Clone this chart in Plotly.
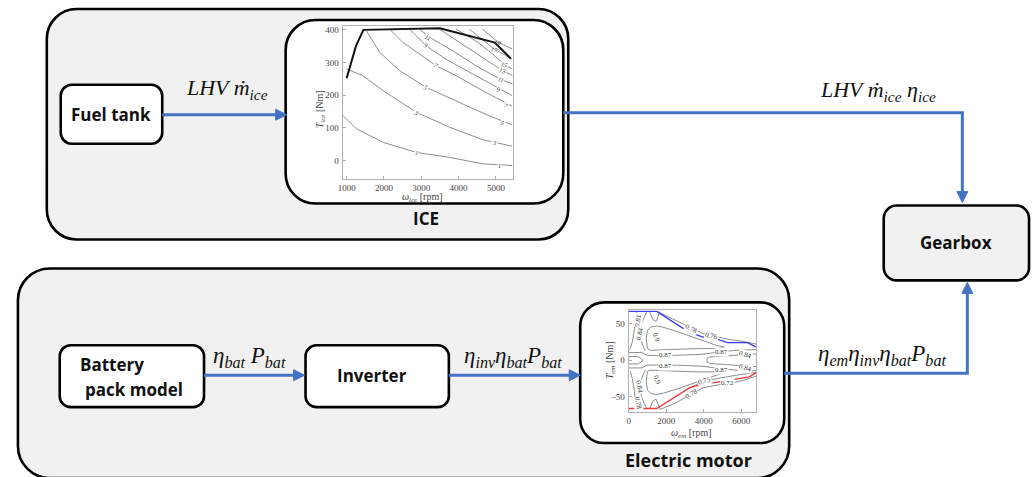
import plotly.graph_objects as go

# ---------------- ICE efficiency-map data (speed rpm, torque Nm) ----------------
ice_limit = [(1000, 252), (1250, 351), (1450, 400), (3500, 405), (4970, 361), (5400, 312)]
ice_c1 = [(893, 139), (1267, 97), (1978, 56), (2867, 25), (3756, 10), (4644, -10), (5444, -15)]
ice_c3 = [(1000, 280), (1400, 262), (1978, 214), (2867, 148), (3756, 102), (4644, 64), (5444, 44)]
ice_c5 = [(1533, 397), (1889, 331), (2422, 275), (3133, 224), (4022, 178), (4822, 137), (5444, 109)]
ice_c7 = [(2156, 402), (2511, 361), (2956, 326), (3400, 290), (3933, 260), (4644, 214), (5444, 166)]
ice_c9 = [(2689, 402), (3133, 351), (3667, 310), (4289, 270), (5000, 224), (5444, 198)]
ice_c11 = [(2956, 402), (3222, 377), (3844, 336), (4467, 290), (5089, 251), (5444, 234)]
ice_c13 = [(3489, 402), (4111, 356), (4644, 316), (5178, 275), (5444, 260)]
ice_c15 = [(3933, 402), (4467, 366), (4911, 326), (5222, 295), (5444, 280)]
ice_c17 = [(4289, 402), (4644, 371), (4956, 341), (5444, 310)]
ice_c19 = [(4644, 402), (5044, 363), (5444, 341)]
ice_contours = [ice_c1, ice_c3, ice_c5, ice_c7, ice_c9, ice_c11, ice_c13, ice_c15, ice_c17, ice_c19]

# contour labels: (text, rpm, Nm, angle)
ice_labels = [("1", 2867, 25, 12), ("1", 5089, -15, 0), ("3", 2867, 148, 25), ("3", 4956, 56, 12),
              ("5", 3133, 224, 30), ("5", 5178, 117, 15), ("7", 3400, 290, 30), ("7", 5267, 168, 20),
              ("9", 3133, 351, 30), ("9", 5089, 219, 20), ("11", 3178, 377, 30), ("11", 5133, 249, 20),
              ("13", 5178, 275, 20), ("15", 5222, 295, 20), ("17", 4956, 341, 20), ("19", 5044, 361, 20)]
ice_xticks = [1000, 2000, 3000, 4000, 5000]
ice_yticks = [0, 100, 200, 300, 400]

# ---------------- Electric motor efficiency-map data (speed rpm, torque Nm) ----------------
em_tmax = [(0, 66.8), (1498, 66.8), (3260, 37.7), (4053, 30.9), (4493, 30.5), (5286, 24.1), (6344, 24.1), (6784, 18.2)]
em_tmin = [(0, -65.9), (1498, -65.9), (3260, -37.3), (4053, -31.8), (4493, -30.9), (5286, -27.3), (6432, -22.7), (6784, -17.3)]
em_c078u = [(1586, 65.9), (2555, 53.6), (3348, 43.2), (3965, 36.4), (4405, 34.1), (5374, 28.2), (6079, 25.9), (6784, 22.3)]
em_c078l = [(1674, -67.3), (2555, -57.7), (3348, -46.4), (3965, -37.7), (4670, -34.1), (5374, -31.8), (6079, -27.7), (6784, -21.8)]
em_c075l = [(3084, -40.9), (3612, -33.2), (4053, -28.2), (4846, -24.1), (5727, -20.5), (6784, -16.8)]
em_c09u = [(1004, 15.9), (934, 29.5), (1004, 40.9), (1181, 45.5), (1498, 46.8), (1850, 45), (2555, 39.5),
           (3260, 33.2), (3965, 25.9), (4670, 20.5), (5110, 17.7), (4670, 15.9), (3612, 15.9), (2555, 14.5),
           (1674, 13.6), (1181, 13.6), (1004, 15.9)]
em_c09l = [(1004, -15), (934, -28.6), (1004, -40.9), (1181, -45.5), (1498, -46.8), (1850, -45), (2555, -39.5),
           (3260, -33.2), (3965, -25.9), (4670, -20.5), (5110, -17.7), (4670, -15.9), (3612, -15.9), (2555, -14.5),
           (1674, -13.6), (1181, -13.6), (1004, -15)]
em_c087u = [(0, 10.5), (705, 10.5), (969, 6.8), (1498, 6.4), (2555, 6.8), (3965, 8.2), (4846, 11.4), (5727, 13.6), (6784, 14.5)]
em_c087l = [(0, -10.5), (705, -10.5), (969, -6.8), (1498, -6.4), (2555, -6.8), (3965, -8.2), (4846, -11.4), (5727, -13.6), (6784, -14.5)]
em_c084r = [(6784, 8.6), (5551, 6.8), (4317, 4.5), (4176, 2.3), (4176, -2.3), (4317, -4.5), (5551, -6.8), (6784, -8.6)]
em_c084c = [(0, 5), (529, 5), (758, 0), (529, -5), (0, -5)]
em_c084u = [(969, 66.8), (828, 59), (687, 50), (617, 38.6), (652, 27.3), (793, 18.2), (881, 13.2)]
em_c084l = [(881, -13.2), (793, -18.2), (652, -27.3), (617, -38.6), (687, -50), (828, -59), (969, -66.8)]
em_c081u = [(405, 66.8), (370, 54.5), (300, 40.9), (194, 25), (88, 15.9), (0, 13.6)]
em_c078ll = [(88, -15), (194, -25), (300, -40.9), (370, -54.5), (405, -66.8)]
em_c087tu = [(1110, 66.8), (1286, 55.9), (1463, 53.2), (1604, 62.3), (1674, 66.8)]
em_c087tl = [(1110, -66.8), (1286, -55.9), (1463, -53.2), (1604, -62.3), (1674, -66.8)]
em_contours = [em_c078u, em_c078l, em_c075l, em_c09u, em_c09l, em_c087u, em_c087l, em_c084r, em_c084c,
               em_c084u, em_c084l, em_c081u, em_c078ll, em_c087tu, em_c087tl]

em_labels = [("0.81", 529, 54.5, -80), ("0.84", 581, 36.4, -80), ("0.9", 1463, 31.8, 70),
             ("0.78", 3348, 43.2, 28), ("0.76", 4405, 33.2, 12), ("0.87", 1938, 6.8, 0),
             ("0.87", 4934, 11.4, 0), ("0.84", 6256, 7.7, 15), ("0.87", 1938, -8.2, 0),
             ("0.87", 4934, -13.2, 0), ("0.84", 6256, -10, 15), ("0.9", 1498, -27.3, 70),
             ("0.84", 581, -36.4, 80), ("0.78", 476, -59, 80), ("0.75", 4053, -28.2, -15),
             ("0.72", 5286, -30.5, 0), ("0.78", 3348, -45.5, -30)]
em_xticks = [0, 2000, 4000, 6000]
em_yticks = [-50, 0, 50]

# ---------------- styling ----------------
W, H = 1035, 477
BLUE = "#4472C4"
PANEL = "#f1f1f1"
SERIF = "Liberation Serif"
SANS = "Open Sans"
MAPGREY = "#808080"

fig = go.Figure()


def add_lines(points, xa, ya, color, width):
    fig.add_trace(go.Scatter(x=[p[0] for p in points], y=[p[1] for p in points], mode="lines",
                             line=dict(color=color, width=width), xaxis=xa, yaxis=ya,
                             hoverinfo="skip", showlegend=False))


for c in ice_contours:
    add_lines(c, "x2", "y2", MAPGREY, 0.9)
add_lines(ice_limit, "x2", "y2", "#111111", 2)

for c in em_contours:
    add_lines(c, "x3", "y3", MAPGREY, 0.9)
add_lines(em_tmax, "x3", "y3", "#3b3bf0", 1.4)
add_lines(em_tmin, "x3", "y3", "#f03b3b", 1.4)

annotations = []
for txt, xv, yv, ang in ice_labels:
    # labels sitting on the torque limit curve are left unmasked so the curve stays visible
    on_limit = txt in ("17", "19")
    annotations.append(dict(x=xv, y=yv, xref="x2", yref="y2", text="<i>" + txt + "</i>", showarrow=False,
                            textangle=ang, font=dict(family=SERIF, size=6.5, color="#333"),
                            bgcolor="rgba(0,0,0,0)" if on_limit else "white", borderpad=0))
for txt, xv, yv, ang in em_labels:
    annotations.append(dict(x=xv, y=yv, xref="x3", yref="y3", text=txt, showarrow=False,
                            textangle=ang, font=dict(family=SERIF, size=7, color="#333"),
                            bgcolor="white", borderpad=0))


def rrect(x0, y0, x1, y1, r):
    k = 0.5523 * r
    return (f"M{x0 + r},{y0} L{x1 - r},{y0} C{x1 - r + k},{y0} {x1},{y0 + r - k} {x1},{y0 + r} "
            f"L{x1},{y1 - r} C{x1},{y1 - r + k} {x1 - r + k},{y1} {x1 - r},{y1} "
            f"L{x0 + r},{y1} C{x0 + r - k},{y1} {x0},{y1 - r + k} {x0},{y1 - r} "
            f"L{x0},{y0 + r} C{x0},{y0 + r - k} {x0 + r - k},{y0} {x0 + r},{y0} Z")


shapes = []


def box(x0, y0, x1, y1, r, fill, lw=2.6):
    shapes.append(dict(type="path", path=rrect(x0, y0, x1, y1, r), xref="x", yref="y",
                       fillcolor=fill, line=dict(color="#000", width=lw), layer="below"))


def seg(pts):
    path = "M" + " L".join(f"{a},{b}" for a, b in pts)
    shapes.append(dict(type="path", path=path, xref="x", yref="y",
                       line=dict(color=BLUE, width=3), layer="below"))


def head(tx, ty, direction):
    s, h = 5.5, 11
    if direction == "right":
        pts = [(tx, ty), (tx - h, ty - s), (tx - h, ty + s)]
    elif direction == "down":
        pts = [(tx, ty), (tx - s, ty - h), (tx + s, ty - h)]
    else:  # up
        pts = [(tx, ty), (tx - s, ty + h), (tx + s, ty + h)]
    path = "M" + " L".join(f"{a},{b}" for a, b in pts) + " Z"
    shapes.append(dict(type="path", path=path, xref="x", yref="y", fillcolor=BLUE,
                       line=dict(color=BLUE, width=1), layer="below"))


# outer group panels
box(42, 8, 566, 239, 30, PANEL)
box(13, 268, 788, 478, 32, PANEL)
# blocks
box(56, 84, 158, 143, 11, "white")
box(282, 19, 561, 203, 30, "white")
box(55, 345, 200, 407, 11, "white")
box(302, 345, 446, 407, 11, "white")
box(578, 302, 783, 443, 24, "white")
box(883, 205, 1029, 280, 13, PANEL)

# signal arrows
seg([(158, 114), (275, 114)]); head(283, 114, "right")
seg([(561, 112), (962, 112), (962, 193)]); head(962, 202, "down")
seg([(200, 375), (292, 375)]); head(301, 375, "right")
seg([(446, 375), (569, 375)]); head(578, 375, "right")
seg([(783, 373), (967, 373), (967, 291)]); head(967, 282, "up")


def label(x, y, text, size, family=SANS, color="#111", xanchor="center", angle=0):
    annotations.append(dict(x=x, y=y, xref="x", yref="y", text=text, showarrow=False, xanchor=xanchor,
                            yanchor="middle", textangle=angle, font=dict(family=family, size=size, color=color)))


label(107, 114, "<b>Fuel tank</b>", 17)
label(423, 218, "<b>ICE</b>", 17)
label(956, 242, "<b>Gearbox</b>", 17)
label(73, 364, "<b>Battery</b>", 17, xanchor="left")
label(78, 389, "<b>pack model</b>", 17, xanchor="left")
label(369, 375, "<b>Inverter</b>", 17)
label(687, 460, "<b>Electric motor</b>", 18)

label(223, 88, "<i>LHV ṁ</i><sub><i>ice</i></sub>", 22, family=SERIF)
label(877, 90, "<i>LHV ṁ</i><sub><i>ice</i></sub><i> η</i><sub><i>ice</i></sub>", 22, family=SERIF)
label(246, 357, "<i>η</i><sub><i>bat</i></sub> <i>P</i><sub><i>bat</i></sub>", 23, family=SERIF)
label(510, 357, "<i>η</i><sub><i>inv</i></sub><i>η</i><sub><i>bat</i></sub><i>P</i><sub><i>bat</i></sub>", 23, family=SERIF)
label(881, 355, "<i>η</i><sub><i>em</i></sub><i>η</i><sub><i>inv</i></sub><i>η</i><sub><i>bat</i></sub><i>P</i><sub><i>bat</i></sub>", 23, family=SERIF)

# map axis titles
label(317, 108, "<i>T</i><sub><i>ice</i></sub> [Nm]", 10, family=SERIF, color="#444", angle=-90)
label(420, 197, "<i>ω</i><sub><i>ice</i></sub> [rpm]", 10, family=SERIF, color="#444")
label(608, 360, "<i>T</i><sub><i>em</i></sub> [Nm]", 10, family=SERIF, color="#444", angle=-90)
label(690, 433, "<i>ω</i><sub><i>em</i></sub> [rpm]", 10, family=SERIF, color="#444")

map_axis = dict(showline=True, mirror=True, linecolor="#b0b0b0", linewidth=1, ticks="inside", ticklen=3,
                tickcolor="#b0b0b0", showgrid=False, zeroline=False,
                tickfont=dict(family=SERIF, size=9, color="#444"), fixedrange=True)

fig.update_layout(
    width=W, height=H, margin=dict(l=0, r=0, t=0, b=0),
    paper_bgcolor="white", plot_bgcolor="rgba(0,0,0,0)", showlegend=False,
    xaxis=dict(range=[0, W], domain=[0, 1], visible=False, fixedrange=True),
    yaxis=dict(range=[H, 0], domain=[0, 1], visible=False, fixedrange=True),
    xaxis2=dict(map_axis, domain=[339.3 / W, 510 / W], anchor="y2", range=[893, 5445],
                tickvals=ice_xticks, ticklabelstandoff=0),
    yaxis2=dict(map_axis, domain=[1 - 178.3 / H, 1 - 25 / H], anchor="x2", range=[-56, 412],
                tickvals=ice_yticks, ticklabelstandoff=1),
    xaxis3=dict(map_axis, domain=[626.7 / W, 755 / W], anchor="y3", range=[0, 6810],
                tickvals=em_xticks, ticklabelstandoff=0),
    yaxis3=dict(map_axis, domain=[1 - 411.7 / H, 1 - 310 / H], anchor="x3", range=[-70.5, 68.2],
                tickvals=em_yticks, ticklabelstandoff=1),
    shapes=shapes, annotations=annotations,
)

fig.write_html("out.html")
